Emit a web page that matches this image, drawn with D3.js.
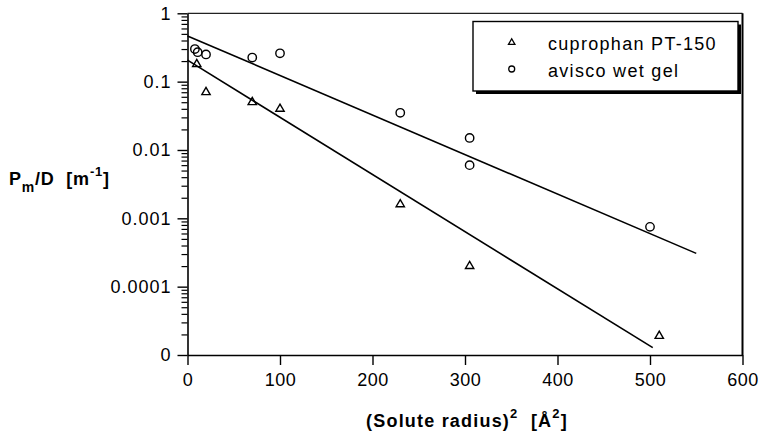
<!DOCTYPE html>
<html>
<head>
<meta charset="utf-8">
<script src="https://cdn.jsdelivr.net/npm/d3@7"></script>
<style>
  html, body { margin: 0; padding: 0; background: #fff; }
  svg { display: block; }
  text { font-family: "Liberation Sans", Arial, Helvetica, sans-serif; fill: #000; }
</style>
</head>
<body>
<svg id="chart" width="765" height="436"></svg>
<script>
// Membrane permeability vs. squared solute radius
const seriesNames = ["cuprophan PT-150", "avisco wet gel"];

const cuproX = [10, 20, 70, 100, 230, 305, 510];
const cuproY = [0.18, 0.07, 0.05, 0.04, 0.0016, 0.0002, 0.000019];

const aviscoX = [8, 11, 20, 70, 100, 230, 305, 305, 500];
const aviscoY = [0.30, 0.27, 0.25, 0.225, 0.26, 0.035, 0.015, 0.006, 0.00075];

// Fitted exponential trends (end points of each straight line on the log axis)
const cuproFitX = [0, 503];
const cuproFitY = [0.206, 0.0000128];
const aviscoFitX = [0, 550];
const aviscoFitY = [0.466, 0.000307];

// Axis ticks
const xTicks = [0, 100, 200, 300, 400, 500, 600];
const yTicks = [1e-5, 1e-4, 1e-3, 1e-2, 1e-1, 1];
const yTickLabels = ["0", "0.0001", "0.001", "0.01", "0.1", "1"];

const svg = d3.select("#chart");

const plotLeft = 187.5, plotRight = 742.5, plotTop = 13.3, plotBottom = 355;

const x = d3.scaleLinear().domain([0, 600]).range([plotLeft, plotRight]);
const y = d3.scaleLog().domain([1e-5, 1]).range([plotBottom, plotTop]);

// Frame: top and right edges
svg.append("line").attr("x1", plotLeft).attr("x2", plotRight).attr("y1", plotTop).attr("y2", plotTop)
  .attr("stroke", "#222").attr("stroke-width", 1.2);
svg.append("line").attr("x1", plotRight).attr("x2", plotRight).attr("y1", plotTop).attr("y2", plotBottom)
  .attr("stroke", "#000").attr("stroke-width", 2);

// Minor log ticks on the y axis
const minor = [];
for (let e = -5; e < 0; e++) {
  for (let m = 2; m <= 9; m++) minor.push(m * Math.pow(10, e));
}
svg.append("g")
  .attr("transform", `translate(${plotLeft},0)`)
  .call(d3.axisLeft(y).tickValues(minor).tickFormat("").tickSize(6).tickSizeOuter(0))
  .call(g => g.select(".domain").remove())
  .call(g => g.selectAll("line").attr("stroke", "#000").attr("stroke-width", 1.2));

// Y axis
svg.append("g")
  .attr("transform", `translate(${plotLeft},0)`)
  .call(d3.axisLeft(y).tickValues(yTicks)
    .tickFormat((d, i) => yTickLabels[i]).tickSize(10).tickPadding(6).tickSizeOuter(0))
  .call(g => g.select(".domain").attr("stroke", "#000").attr("stroke-width", 1.6))
  .call(g => g.selectAll("line").attr("stroke", "#000").attr("stroke-width", 1.4))
  .call(g => g.selectAll("text")
    .style("font-family", "'Liberation Sans', Arial, sans-serif")
    .style("font-size", "18px").style("letter-spacing", "1px").attr("fill", "#000"));

// X axis
svg.append("g")
  .attr("transform", `translate(0,${plotBottom})`)
  .call(d3.axisBottom(x).tickValues(xTicks).tickFormat(d3.format("d"))
    .tickSize(10).tickPadding(8).tickSizeOuter(0))
  .call(g => g.select(".domain").attr("stroke", "#000").attr("stroke-width", 1.6))
  .call(g => g.selectAll("line").attr("stroke", "#000").attr("stroke-width", 1.4))
  .call(g => g.selectAll("text")
    .style("font-family", "'Liberation Sans', Arial, sans-serif")
    .style("font-size", "18px").style("letter-spacing", "0.5px").attr("fill", "#000"));

// Fit lines
const line = d3.line().x(d => x(d[0])).y(d => y(d[1]));
svg.append("path").datum(d3.zip(cuproFitX, cuproFitY)).attr("d", line)
  .attr("fill", "none").attr("stroke", "#000").attr("stroke-width", 1.6);
svg.append("path").datum(d3.zip(aviscoFitX, aviscoFitY)).attr("d", line)
  .attr("fill", "none").attr("stroke", "#000").attr("stroke-width", 1.6);

// Markers
const tri = d3.symbol().type(d3.symbolTriangle).size(30);
svg.append("g").selectAll("path").data(d3.zip(cuproX, cuproY)).join("path")
  .attr("transform", d => `translate(${x(d[0])},${y(d[1])})`)
  .attr("d", tri).attr("fill", "none").attr("stroke", "#000").attr("stroke-width", 1.4);

svg.append("g").selectAll("circle").data(d3.zip(aviscoX, aviscoY)).join("circle")
  .attr("cx", d => x(d[0])).attr("cy", d => y(d[1])).attr("r", 4.2)
  .attr("fill", "none").attr("stroke", "#000").attr("stroke-width", 1.4);

// Legend with drop shadow
const lg = svg.append("g");
lg.append("rect").attr("x", 476).attr("y", 24.5).attr("width", 265).attr("height", 69.5).attr("fill", "#000");
lg.append("rect").attr("x", 473).attr("y", 21.5).attr("width", 265).attr("height", 69.5)
  .attr("fill", "#fff").attr("stroke", "#000").attr("stroke-width", 1.4);
lg.append("path").attr("transform", "translate(511.7,42.5)")
  .attr("d", d3.symbol().type(d3.symbolTriangle).size(18))
  .attr("fill", "none").attr("stroke", "#000").attr("stroke-width", 1.3);
lg.append("circle").attr("cx", 511.7).attr("cy", 69).attr("r", 3)
  .attr("fill", "none").attr("stroke", "#000").attr("stroke-width", 1.3);
lg.selectAll("text.leg").data(seriesNames).join("text").attr("class", "leg")
  .attr("x", 548).attr("y", (d, i) => 50 + i * 26.5)
  .style("font-size", "18px").style("letter-spacing", "1.3px")
  .text(d => d);

// Y axis title: P_m/D [m^-1]
const yt = svg.append("text").attr("x", 9).attr("y", 185)
  .style("font-size", "18px").style("font-weight", "bold").style("letter-spacing", "0.8px");
yt.append("tspan").text("P");
yt.append("tspan").attr("dy", 7).style("font-size", "14px").text("m");
yt.append("tspan").attr("dy", -7).text("/D\u00a0\u00a0[m");
yt.append("tspan").attr("dy", -9).style("font-size", "13px").text("-1");
yt.append("tspan").attr("dy", 9).text("]");

// X axis title: (Solute radius)^2 [Å^2]
const xt = svg.append("text").attr("x", 467).attr("y", 427).attr("text-anchor", "middle")
  .style("font-size", "18px").style("font-weight", "bold").style("letter-spacing", "1.2px");
xt.append("tspan").text("(Solute radius)");
xt.append("tspan").attr("dy", -9).style("font-size", "13px").text("2");
xt.append("tspan").attr("dy", 9).text("\u00a0\u00a0[Å");
xt.append("tspan").attr("dy", -9).style("font-size", "13px").text("2");
xt.append("tspan").attr("dy", 9).text("]");
</script>
</body>
</html>
